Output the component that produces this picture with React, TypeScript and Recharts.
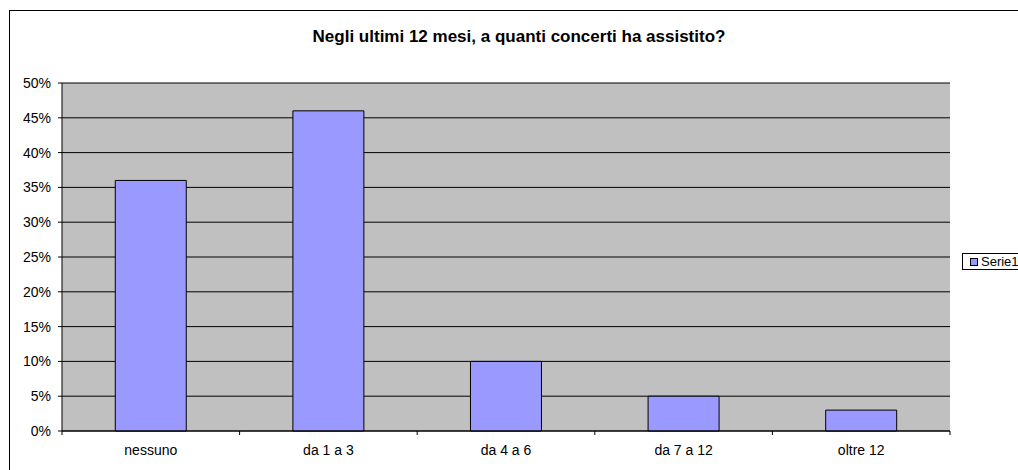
import { BarChart, Bar, XAxis, YAxis, CartesianGrid } from "recharts"

const categories = ["nessuno", "da 1 a 3", "da 4 a 6", "da 7 a 12", "oltre 12"]
const serie1 = [36, 46, 10, 5, 3]
const yTicks = [0, 5, 10, 15, 20, 25, 30, 35, 40, 45, 50]
const seriesName = "Serie1"

const data = categories.map((c, i) => ({ name: c, serie1: serie1[i] }))

const FONT = "'Liberation Sans', Arial, sans-serif"
const PLOT_LEFT = 62
const PLOT_RIGHT = 950
const BAND = (PLOT_RIGHT - PLOT_LEFT) / categories.length
const BAR_COLOR = "#9999FF"

const XTick = (props: any) => {
    const { x, y, payload, index } = props
    const left = x - BAND / 2
    return (
        <g>
            <line x1={left} y1={y} x2={left} y2={y + 4} stroke="#000" />
            {index === categories.length - 1 && (
                <line x1={x + BAND / 2} y1={y} x2={x + BAND / 2} y2={y + 4} stroke="#000" />
            )}
            <text x={x} y={y + 24} textAnchor="middle" fontSize={14} fontFamily={FONT} fill="#000">
                {payload.value}
            </text>
        </g>
    )
}

export default function App() {
    return (
        <div style={{ position: "absolute", left: 0, top: 0, width: 1018, height: 470, overflow: "hidden", background: "#fff" }}>
            <div style={{ position: "absolute", left: 9, top: 10, width: 1100, height: 520, border: "1px solid #000" }} />
            <div style={{ position: "absolute", left: 0, top: 27, width: 1038, textAlign: "center", fontFamily: FONT, fontSize: 17, fontWeight: "bold" }}>
                Negli ultimi 12 mesi, a quanti concerti ha assistito?
            </div>
            <div style={{ position: "absolute", left: 0, top: 0 }}>
                <BarChart width={1018} height={470} data={data} margin={{ top: 83, right: 68, left: 0, bottom: 0 }} barCategoryGap="30%">
                    <CartesianGrid fill="#C0C0C0" stroke="#000" vertical={false} />
                    <XAxis dataKey="name" height={39} axisLine={{ stroke: "#000" }} tickLine={false} tickSize={0} tickMargin={0} tick={<XTick />} interval={0} />
                    <YAxis width={62} domain={[0, 50]} ticks={yTicks} tickFormatter={(v) => `${v}%`} axisLine={{ stroke: "#000" }} tickLine={{ stroke: "#000" }} tickSize={4} tickMargin={7} tick={{ fill: "#000", fontSize: 14, fontFamily: FONT }} interval={0} />
                    <Bar dataKey="serie1" name={seriesName} fill={BAR_COLOR} stroke="#000" strokeWidth={1} isAnimationActive={false} />
                </BarChart>
            </div>
            <div style={{ position: "absolute", left: 962, top: 253, width: 90, height: 17, border: "1px solid #000", background: "#fff", display: "flex", alignItems: "center", boxSizing: "border-box", paddingLeft: 7, fontFamily: FONT, fontSize: 13 }}>
                <span style={{ width: 6, height: 6, border: "1px solid #000", background: BAR_COLOR, marginRight: 3, display: "inline-block" }} />
                {seriesName}
            </div>
        </div>
    )
}
